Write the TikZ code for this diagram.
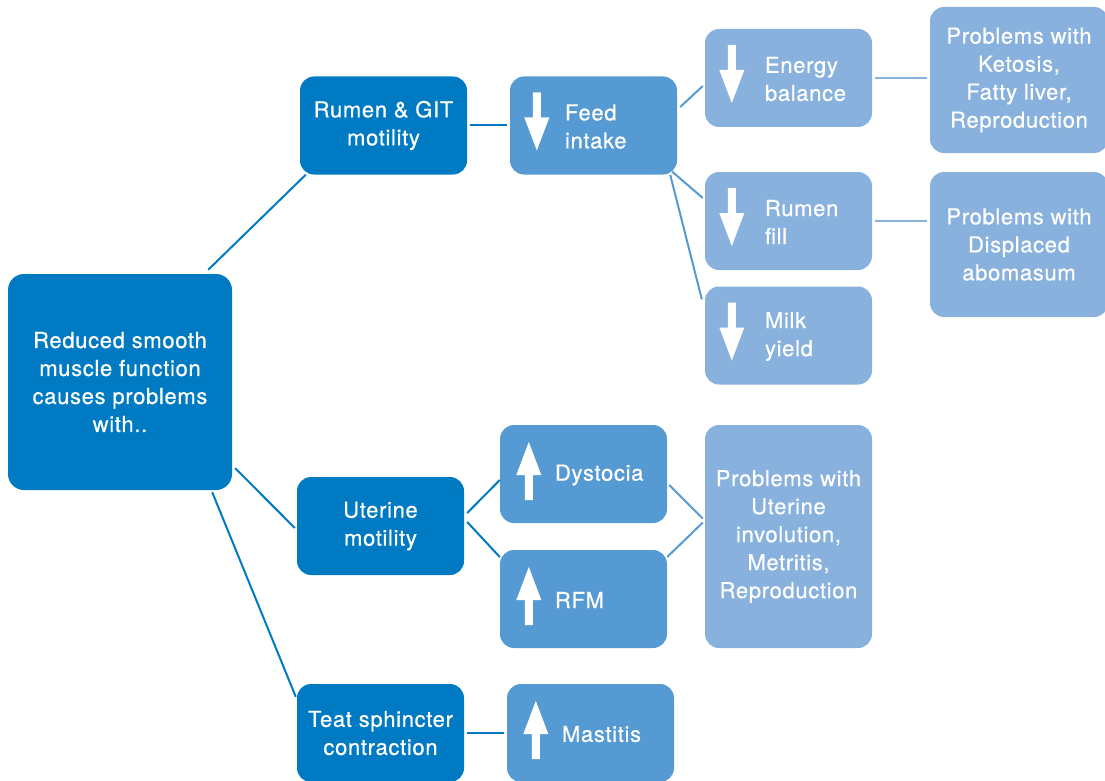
\documentclass[tikz,border=0pt]{standalone}
\usepackage{fontspec}
\setmainfont[LetterSpace=3,FakeBold=0.6]{TeX Gyre Heros}
\usetikzlibrary{calc}
\definecolor{dkblue}{HTML}{007AC2}
\definecolor{mdblue}{HTML}{559AD3}
\definecolor{ltblue}{HTML}{88B1DE}

\begin{document}
\begin{tikzpicture}[x=1pt,y=-1pt,
  box/.style={rounded corners=14pt,minimum width=167pt,minimum height=98pt,inner sep=0pt,
    text=white,align=center,font=\fontsize{22}{28}\selectfont},
  dkbox/.style={box,fill=dkblue},
  mdbox/.style={box,fill=mdblue},
  ltbox/.style={box,fill=ltblue},
  txt/.style={anchor=west,text=white,align=left,inner sep=0pt,font=\fontsize{22}{28}\selectfont},
  dkline/.style={draw=dkblue,line width=2pt},
  mdline/.style={draw=mdblue,line width=2pt},
  ltline/.style={draw=ltblue,line width=2pt},
  uparr/.pic={\fill[white] (-4,29) -- (-4,4) -- (-12.5,4) -- (0,-29) -- (12.5,4) -- (4,4) -- (4,29) -- cycle;},
  dnarr/.pic={\fill[white] (-4,-29) -- (-4,-4) -- (-12.5,-4) -- (0,29) -- (12.5,-4) -- (4,-4) -- (4,-29) -- cycle;}]
\useasboundingbox (0,0) rectangle (1105,781);

% first column
\node[dkbox,minimum width=224pt,minimum height=216pt,rounded corners=16pt] (root) at (120,382)
  {Reduced smooth\\muscle function\\causes problems\\with..};

% second column
\node[dkbox] (rumen) at (383.5,125.5) {Rumen \& GIT\\motility};
\node[dkbox] (uterine) at (380.5,526) {Uterine\\motility};
\node[dkbox] (teat) at (380.5,733) {Teat sphincter\\contraction};

% third column
\node[mdbox] (feed) at (593.5,125.5) {};
\pic at ($(feed.west)+(27,-4)$) {dnarr};
\node[txt] (feedtxt) at ($(feed.west)+(55,1)$) {Feed\\intake};
\node[mdbox] (dystocia) at (583.5,474) {};
\pic at ($(dystocia.west)+(29,-3)$) {uparr};
\node[txt] (dystociatxt) at ($(dystocia.west)+(55,1)$) {Dystocia};
\node[mdbox] (rfm) at (583.5,599) {};
\pic at ($(rfm.west)+(29,-3)$) {uparr};
\node[txt] (rfmtxt) at ($(rfm.west)+(55,1)$) {RFM};
\node[mdbox] (mastitis) at (590.5,733) {};
\pic at ($(mastitis.west)+(29,-3)$) {uparr};
\node[txt] (mastitistxt) at ($(mastitis.west)+(55,1)$) {Mastitis};

% fourth column
\node[ltbox] (energy) at (788.5,78) {};
\pic at ($(energy.west)+(27,-4)$) {dnarr};
\node[txt] (energytxt) at ($(energy.west)+(60,1)$) {Energy\\balance};
\node[ltbox] (fill) at (788.5,221) {};
\pic at ($(fill.west)+(27,-4)$) {dnarr};
\node[txt] (filltxt) at ($(fill.west)+(60,1)$) {Rumen\\fill};
\node[ltbox] (milk) at (788.5,335.5) {};
\pic at ($(milk.west)+(27,-4)$) {dnarr};
\node[txt] (milktxt) at ($(milk.west)+(60,1)$) {Milk\\yield};
\node[ltbox,minimum height=223pt] (uterprob) at (788.5,536.5)
  {Problems with\\Uterine\\involution,\\Metritis,\\Reproduction};

% fifth column
\node[ltbox,minimum width=178pt,minimum height=146pt] (ketosis) at (1019,80)
  {Problems with\\Ketosis,\\Fatty liver,\\Reproduction};
\node[ltbox,minimum width=178pt,minimum height=145pt] (displaced) at (1019,244.5)
  {Problems with\\Displaced\\abomasum};

% connectors
\draw[dkline] ($(root.north east)+(-24,-4)$) -- ($(rumen.south west)+(6,0)$);
\draw[dkline] ($(root.south east)+(3,-22)$) -- ($(uterine.west)+(-2,2)$);
\draw[dkline] ($(root.south east)+(-20,2)$) -- ($(teat.north west)+(-1,13)$);
\draw[dkline,shorten <=3pt,shorten >=3pt] (rumen) -- (feed);
\draw[dkline] ($(uterine.east)+(3,-13)$) -- ($(dystocia.west)+(0,6)$);
\draw[dkline] ($(uterine.east)+(3,-4)$) -- ($(rfm.west)+(0,-42)$);
\draw[dkline,shorten <=3pt,shorten >=3pt] (teat) -- (mastitis);
\draw[mdline] ($(feed.east)+(3,-18.5)$) -- ($(energy.west)+(-2,8)$);
\draw[mdline] ($(feed.south east)+(-5,-3)$) -- ($(fill.west)+(-2,-23)$);
\draw[mdline] ($(feed.south east)+(-7,0)$) -- ($(milk.north west)+(-3,13)$);
\draw[mdline] ($(dystocia.east)+(2,11)$) -- ($(uterprob.west)+(-2,-18)$);
\draw[mdline] ($(rfm.east)+(0,-42)$) -- ($(uterprob.west)+(-2,-14)$);
\draw[ltline,shorten <=3pt,shorten >=3pt] (energy.east) -- (energy.east -| ketosis.west);
\draw[ltline,shorten <=3pt,shorten >=3pt] (fill.east) -- (fill.east -| displaced.west);
\end{tikzpicture}
\end{document}
